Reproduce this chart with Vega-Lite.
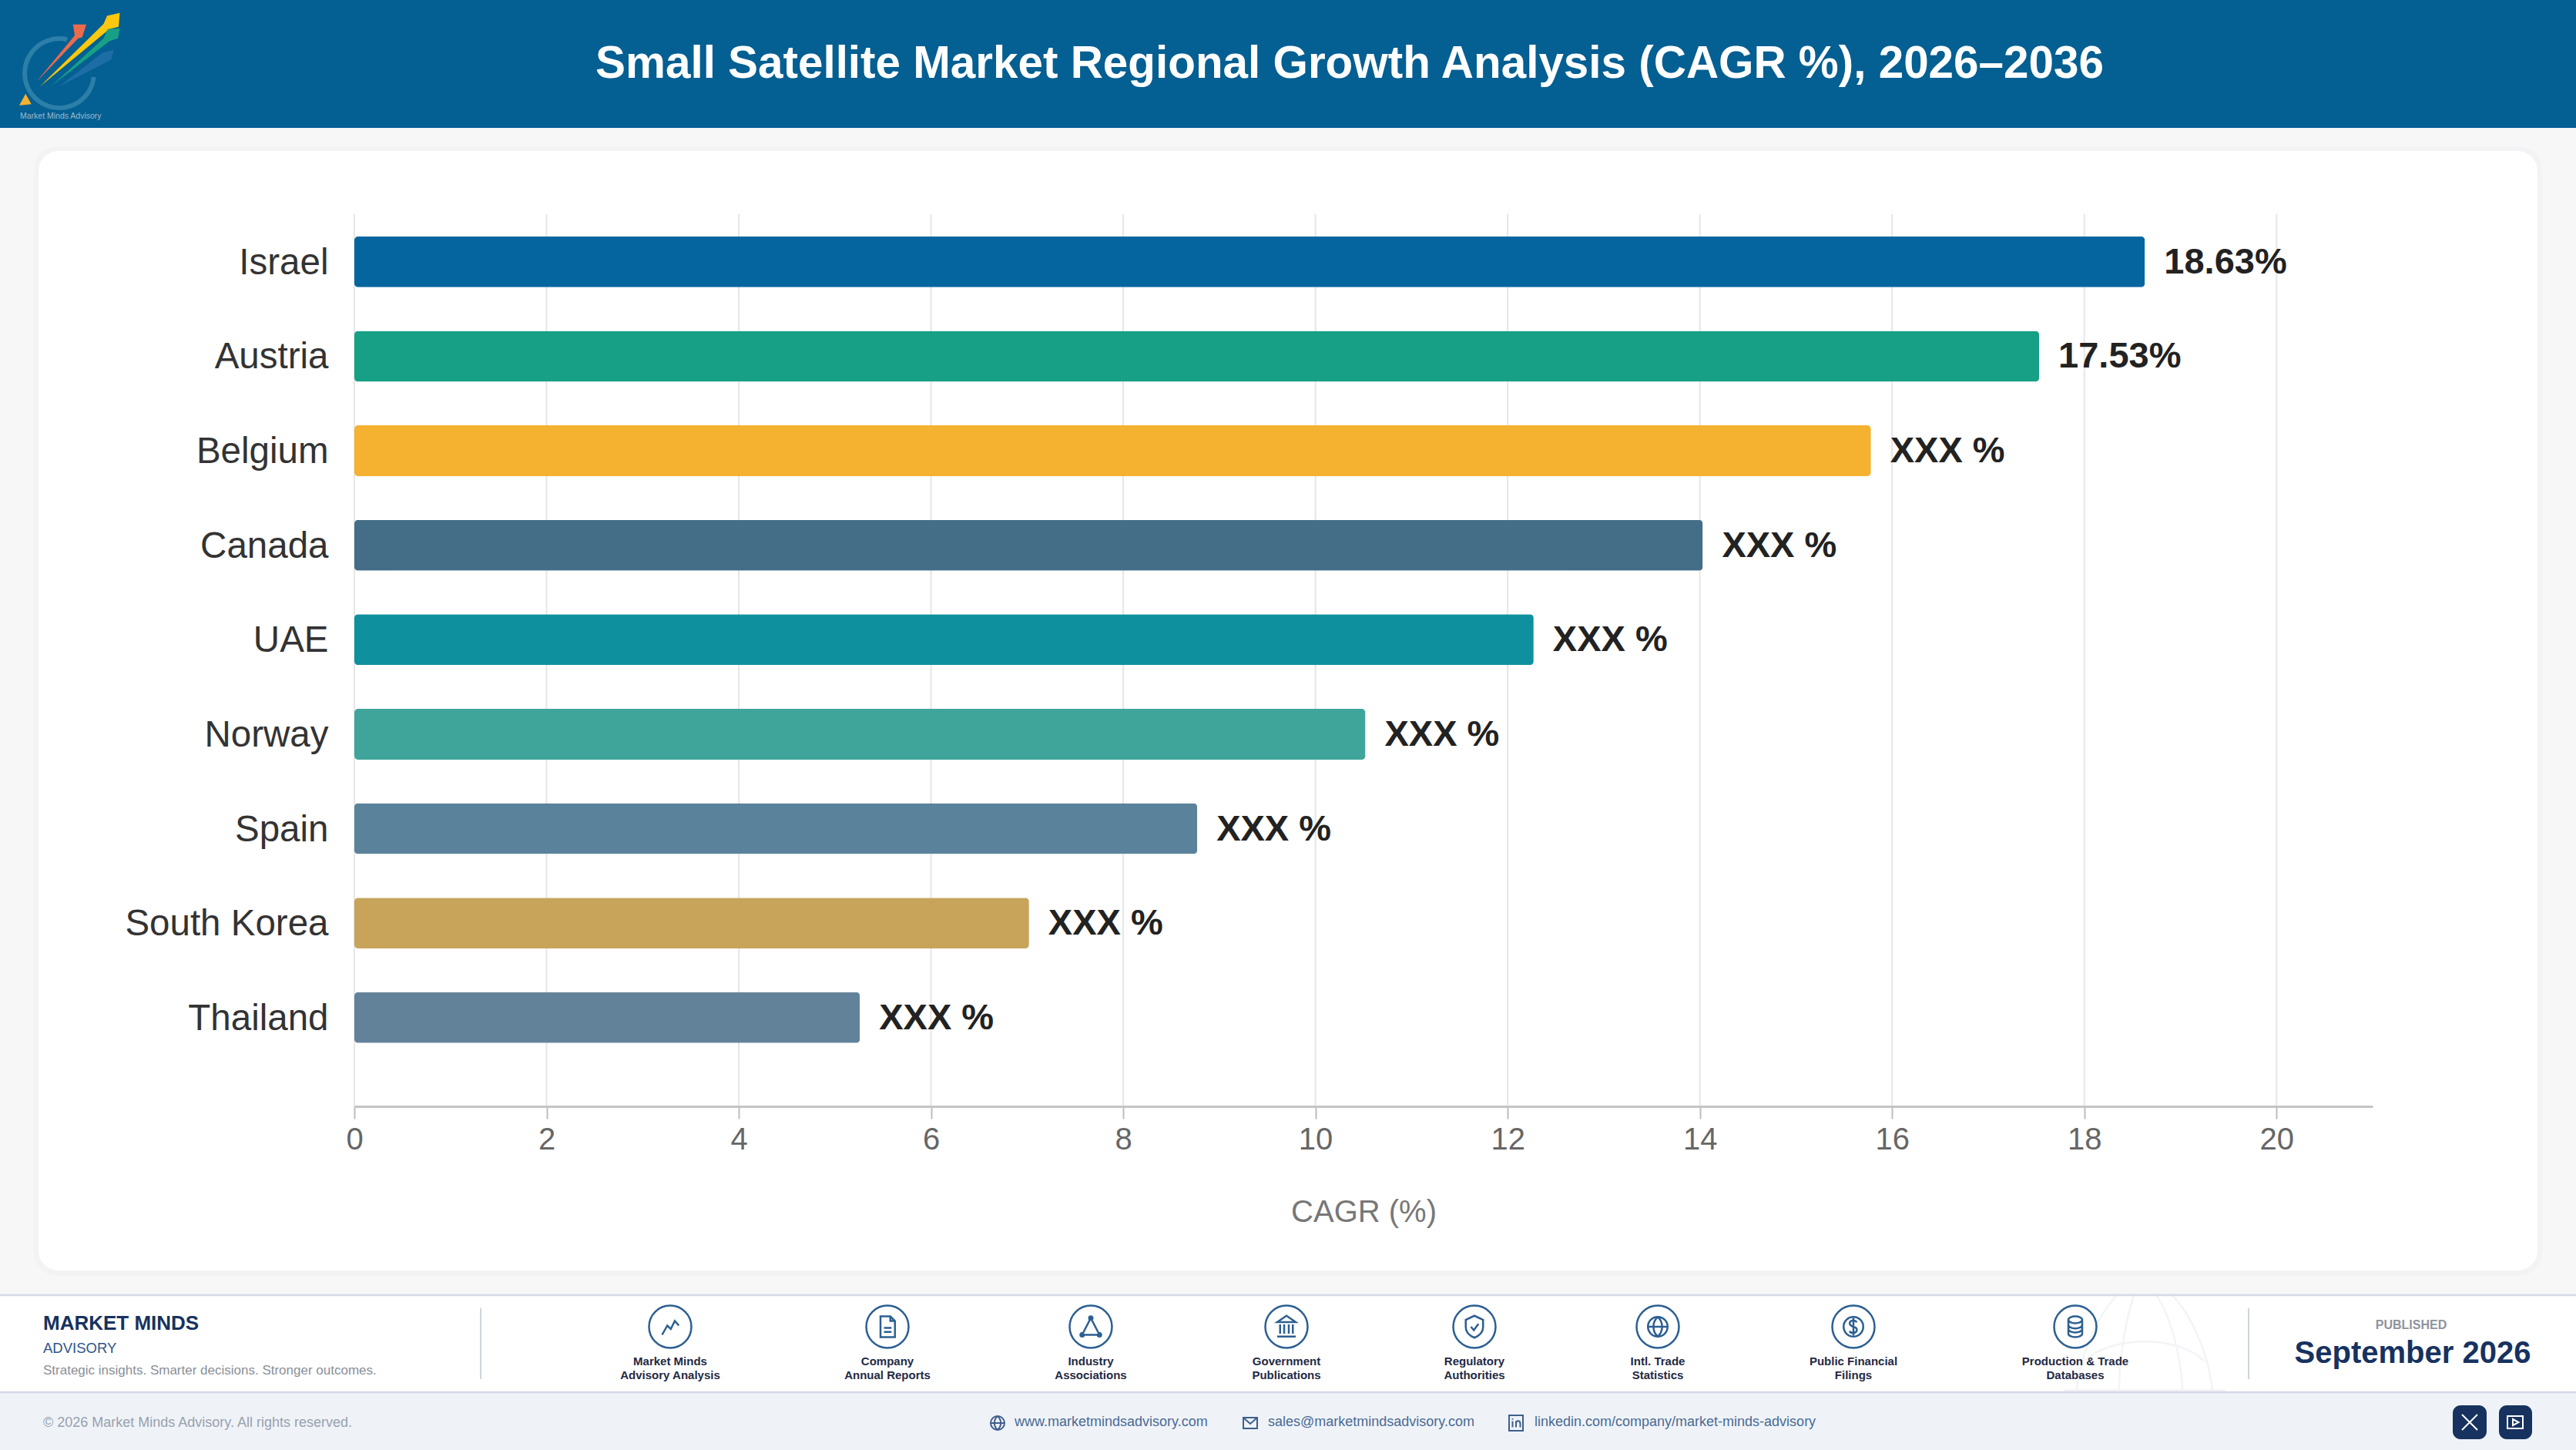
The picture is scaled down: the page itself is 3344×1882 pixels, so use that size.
{
  "$schema": "https://vega.github.io/schema/vega-lite/v6.json",
  "width": 2620,
  "height": 1158,
  "autosize": {"type": "none"},
  "padding": {"left": 460, "top": 278, "right": 264, "bottom": 446},
  "background": "#f7f7f8",
  "title": {
    "text": "Small Satellite Market Regional Growth Analysis (CAGR %), 2026–2036",
    "anchor": "middle", "frame": "group", "offset": -159, "dx": -18, "baseline": "alphabetic",
    "font": "Liberation Sans", "fontSize": 58.4, "fontWeight": "bold", "color": "#ffffff", "zindex": 1
  },
  "data": {"name": "page"},
  "datasets": {
    "page": [{"page": 1}],
    "regions": [
      {"country": "Israel", "cagr": 18.63, "label": "18.63%"},
      {"country": "Austria", "cagr": 17.53, "label": "17.53%"},
      {"country": "Belgium", "cagr": 15.78, "label": "XXX %"},
      {"country": "Canada", "cagr": 14.03, "label": "XXX %"},
      {"country": "UAE", "cagr": 12.27, "label": "XXX %"},
      {"country": "Norway", "cagr": 10.52, "label": "XXX %"},
      {"country": "Spain", "cagr": 8.77, "label": "XXX %"},
      {"country": "South Korea", "cagr": 7.02, "label": "XXX %"},
      {"country": "Thailand", "cagr": 5.26, "label": "XXX %"}
    ],
    "sources": [
      {"slot": 1, "line1": "Market Minds", "line2": "Advisory Analysis", "icon": "chart"},
      {"slot": 2, "line1": "Company", "line2": "Annual Reports", "icon": "doc"},
      {"slot": 3, "line1": "Industry", "line2": "Associations", "icon": "network"},
      {"slot": 4, "line1": "Government", "line2": "Publications", "icon": "bank"},
      {"slot": 5, "line1": "Regulatory", "line2": "Authorities", "icon": "shield"},
      {"slot": 6, "line1": "Intl. Trade", "line2": "Statistics", "icon": "globe"},
      {"slot": 7, "line1": "Public Financial", "line2": "Filings", "icon": "coin"},
      {"slot": 8, "line1": "Production & Trade", "line2": "Databases", "icon": "db"}
    ],
    "contacts": [
      {"slot": 1, "text": "www.marketmindsadvisory.com", "icon": "web"},
      {"slot": 2, "text": "sales@marketmindsadvisory.com", "icon": "mail"},
      {"slot": 3, "text": "linkedin.com/company/market-minds-advisory", "icon": "in"}
    ],
    "logoParts": [
      {"part": "navy"}, {"part": "red"}, {"part": "yellow"}, {"part": "green"}, {"part": "cone"}
    ],
    "gridTicks": [
      {"tick": 0}, {"tick": 2}, {"tick": 4}, {"tick": 6}, {"tick": 8}, {"tick": 10},
      {"tick": 12}, {"tick": 14}, {"tick": 16}, {"tick": 18}, {"tick": 20}
    ]
  },
  "resolve": {"scale": {"x": "independent", "y": "independent", "color": "independent", "shape": "independent"}},
  "layer": [
    {
      "mark": {"type": "rect", "color": "#f3f3f5", "cornerRadius": 30},
      "encoding": {
        "x": {"datum": 44, "scale": {"domain": [0, 3344], "range": [-460, 2884]}, "axis": null},
        "x2": {"datum": 3300},
        "y": {"datum": 190, "scale": {"domain": [0, 1882], "range": [-278, 1604]}, "axis": null},
        "y2": {"datum": 1656}
      }
    },
    {
      "mark": {"type": "rect", "color": "#ffffff", "cornerRadius": 26},
      "encoding": {
        "x": {"datum": 50, "scale": {"domain": [0, 3344], "range": [-460, 2884]}, "axis": null},
        "x2": {"datum": 3294},
        "y": {"datum": 196, "scale": {"domain": [0, 1882], "range": [-278, 1604]}, "axis": null},
        "y2": {"datum": 1649}
      }
    },
    {
      "mark": {"type": "rect", "color": "#045f92"},
      "encoding": {
        "x": {"datum": 0, "scale": {"domain": [0, 3344], "range": [-460, 2884]}, "axis": null},
        "x2": {"datum": 3344},
        "y": {"datum": 0, "scale": {"domain": [0, 1882], "range": [-278, 1604]}, "axis": null},
        "y2": {"datum": 166}
      }
    },
    {
      "mark": {"type": "rect", "color": "#ffffff"},
      "encoding": {
        "x": {"datum": 0, "scale": {"domain": [0, 3344], "range": [-460, 2884]}, "axis": null},
        "x2": {"datum": 3344},
        "y": {"datum": 1680, "scale": {"domain": [0, 1882], "range": [-278, 1604]}, "axis": null},
        "y2": {"datum": 1807}
      }
    },
    {
      "mark": {"type": "point", "filled": false, "opacity": 1, "stroke": "#f3f4f7", "strokeWidth": 2.5, "shape": "M-0.8 0.55C-0.75 0.1 -0.55 -0.35 -0.3 -0.6M0.8 0.55C0.75 0.1 0.55 -0.35 0.3 -0.6M-0.3 0.55C-0.3 0.1 -0.2 -0.35 -0.12 -0.6M0.45 0.55C0.42 0.1 0.3 -0.35 0.12 -0.6M-0.95 0.55H0.95M-0.7 0.2C-0.4 -0.1 0.4 -0.1 0.7 0.2"},
      "encoding": {
        "x": {"datum": 2784, "scale": {"domain": [0, 3344], "range": [-460, 2884]}, "axis": null},
        "y": {"datum": 1744, "scale": {"domain": [0, 1882], "range": [-278, 1604]}, "axis": null},
        "size": {"value": 48400}
      }
    },
    {
      "mark": {"type": "rect", "color": "#eff3f8"},
      "encoding": {
        "x": {"datum": 0, "scale": {"domain": [0, 3344], "range": [-460, 2884]}, "axis": null},
        "x2": {"datum": 3344},
        "y": {"datum": 1807, "scale": {"domain": [0, 1882], "range": [-278, 1604]}, "axis": null},
        "y2": {"datum": 1882}
      }
    },
    {
      "mark": {"type": "rule", "color": "#d5d8e6", "strokeWidth": 2.5},
      "encoding": {
        "x": {"datum": 0, "scale": {"domain": [0, 3344], "range": [-460, 2884]}, "axis": null},
        "x2": {"datum": 3344},
        "y": {"datum": 1681, "scale": {"domain": [0, 1882], "range": [-278, 1604]}, "axis": null}
      }
    },
    {
      "mark": {"type": "rule", "color": "#d5d8e6", "strokeWidth": 2.5},
      "encoding": {
        "x": {"datum": 0, "scale": {"domain": [0, 3344], "range": [-460, 2884]}, "axis": null},
        "x2": {"datum": 3344},
        "y": {"datum": 1807, "scale": {"domain": [0, 1882], "range": [-278, 1604]}, "axis": null}
      }
    },
    {
      "mark": {"type": "rule", "color": "#cdd5df", "strokeWidth": 2},
      "encoding": {
        "x": {"datum": 624, "scale": {"domain": [0, 3344], "range": [-460, 2884]}, "axis": null},
        "y": {"datum": 1698, "scale": {"domain": [0, 1882], "range": [-278, 1604]}, "axis": null},
        "y2": {"datum": 1790}
      }
    },
    {
      "mark": {"type": "rule", "color": "#cdd5df", "strokeWidth": 2},
      "encoding": {
        "x": {"datum": 2919, "scale": {"domain": [0, 3344], "range": [-460, 2884]}, "axis": null},
        "y": {"datum": 1698, "scale": {"domain": [0, 1882], "range": [-278, 1604]}, "axis": null},
        "y2": {"datum": 1790}
      }
    },
    {
      "data": {"name": "gridTicks"},
      "mark": {"type": "rule", "color": "#e6e6e6", "strokeWidth": 2},
      "encoding": {
        "x": {"field": "tick", "type": "quantitative", "scale": {"domain": [0, 21]}, "axis": null}
      }
    },
    {
      "data": {"name": "regions"},
      "mark": {"type": "bar", "cornerRadius": 5},
      "encoding": {
        "x": {
          "field": "cagr", "type": "quantitative",
          "scale": {"domain": [0, 21]},
          "title": "CAGR (%)",
          "axis": {
            "values": [0, 2, 4, 6, 8, 10, 12, 14, 16, 18, 20],
            "grid": false, "zindex": 1, "labelFlush": false,
            "domainColor": "#c4c4c4", "domainWidth": 3,
            "tickColor": "#bdbdbd", "tickWidth": 2, "tickSize": 16,
            "labelFont": "Liberation Sans", "labelFontSize": 40, "labelColor": "#666666", "labelPadding": 7,
            "titleFont": "Liberation Sans", "titleFontSize": 40, "titleFontWeight": "normal", "titleColor": "#777777", "titlePadding": 54
          }
        },
        "y": {
          "field": "country", "type": "nominal", "sort": null,
          "scale": {"type": "band", "paddingInner": 0.462, "paddingOuter": 0.4535, "align": 0.26},
          "title": null,
          "axis": {
            "domain": false, "ticks": false, "grid": false, "zindex": 1, "labelLimit": 0, "labelOffset": 2,
            "labelFont": "Liberation Sans", "labelFontSize": 47.5, "labelColor": "#333333", "labelPadding": 34
          }
        },
        "color": {
          "field": "country", "type": "nominal", "legend": null,
          "scale": {
            "domain": ["Israel", "Austria", "Belgium", "Canada", "UAE", "Norway", "Spain", "South Korea", "Thailand"],
            "range": ["#04659f", "#17a085", "#f5b130", "#446e87", "#0e909e", "#3fa59a", "#5a829b", "#c7a45a", "#628299"]
          }
        }
      }
    },
    {
      "data": {"name": "regions"},
      "mark": {"type": "text", "align": "left", "baseline": "middle", "dx": 25, "dy": 1, "font": "Liberation Sans", "fontSize": 47, "fontWeight": "bold", "color": "#222222"},
      "encoding": {
        "x": {"field": "cagr", "type": "quantitative", "scale": {"domain": [0, 21]}, "axis": null},
        "y": {
          "field": "country", "type": "nominal", "sort": null,
          "scale": {"type": "band", "paddingInner": 0.462, "paddingOuter": 0.4535, "align": 0.26},
          "axis": null
        },
        "text": {"field": "label"}
      }
    },
    {
      "mark": {"type": "point", "filled": false, "opacity": 1, "stroke": "#2b7fa8", "strokeWidth": 6, "shape": "M-0.01 -0.45A0.6 0.6 0 1 0 0.45 0.2"},
      "encoding": {
        "x": {"datum": 88, "scale": {"domain": [0, 3344], "range": [-460, 2884]}, "axis": null},
        "y": {"datum": 85, "scale": {"domain": [0, 1882], "range": [-278, 1604]}, "axis": null},
        "size": {"value": 22500}
      }
    },
    {
      "data": {"name": "logoParts"},
      "mark": {"type": "point", "filled": true, "opacity": 1},
      "encoding": {
        "x": {"datum": 88, "scale": {"domain": [0, 3344], "range": [-460, 2884]}, "axis": null},
        "y": {"datum": 85, "scale": {"domain": [0, 1882], "range": [-278, 1604]}, "axis": null},
        "size": {"value": 22500},
        "color": {
          "field": "part", "type": "nominal", "legend": null,
          "scale": {"domain": ["navy", "red", "yellow", "green", "cone"], "range": ["#1d6da6", "#ee6a4d", "#f9c80e", "#17a085", "#f5b130"]}
        },
        "shape": {
          "field": "part", "type": "nominal", "legend": null,
          "scale": {
            "domain": ["navy", "red", "yellow", "green", "cone"],
            "range": [
              "M-0.16 0.37L0.6 -0.22L0.8 -0.27L0.75 -0.1Z",
              "M-0.55 0.29L0.12 -0.52L0.09 -0.71L0.32 -0.71L0.25 -0.49L0.18 -0.47Z",
              "M-0.49 0.37L0.62 -0.72L0.68 -0.86L0.9 -0.91L0.88 -0.67L0.72 -0.63Z",
              "M-0.29 0.36L0.62 -0.47L0.69 -0.63L0.9 -0.64L0.87 -0.47L0.72 -0.42Z",
              "M-0.73 0.49L-0.84 0.69L-0.63 0.67Z"
            ]
          }
        }
      }
    },
    {
      "mark": {"type": "text", "text": "Market Minds Advisory", "align": "left", "font": "Liberation Sans", "fontSize": 10.5, "color": "#9db9cc"},
      "encoding": {
        "x": {"datum": 26, "scale": {"domain": [0, 3344], "range": [-460, 2884]}, "axis": null},
        "y": {"datum": 151, "scale": {"domain": [0, 1882], "range": [-278, 1604]}, "axis": null}
      }
    },
    {
      "mark": {"type": "text", "text": "MARKET MINDS", "align": "left", "baseline": "alphabetic", "font": "Liberation Sans", "fontSize": 26, "fontWeight": "bold", "color": "#17325f"},
      "encoding": {
        "x": {"datum": 56, "scale": {"domain": [0, 3344], "range": [-460, 2884]}, "axis": null},
        "y": {"datum": 1726, "scale": {"domain": [0, 1882], "range": [-278, 1604]}, "axis": null}
      }
    },
    {
      "mark": {"type": "text", "text": "ADVISORY", "align": "left", "baseline": "alphabetic", "font": "Liberation Sans", "fontSize": 18.5, "color": "#2f5488"},
      "encoding": {
        "x": {"datum": 56, "scale": {"domain": [0, 3344], "range": [-460, 2884]}, "axis": null},
        "y": {"datum": 1756, "scale": {"domain": [0, 1882], "range": [-278, 1604]}, "axis": null}
      }
    },
    {
      "mark": {"type": "text", "text": "Strategic insights. Smarter decisions. Stronger outcomes.", "align": "left", "baseline": "alphabetic", "font": "Liberation Sans", "fontSize": 17, "color": "#8a8f98"},
      "encoding": {
        "x": {"datum": 56, "scale": {"domain": [0, 3344], "range": [-460, 2884]}, "axis": null},
        "y": {"datum": 1784, "scale": {"domain": [0, 1882], "range": [-278, 1604]}, "axis": null}
      }
    },
    {
      "mark": {"type": "text", "text": "© 2026 Market Minds Advisory. All rights reserved.", "align": "left", "baseline": "alphabetic", "font": "Liberation Sans", "fontSize": 18, "color": "#98a1ae"},
      "encoding": {
        "x": {"datum": 56, "scale": {"domain": [0, 3344], "range": [-460, 2884]}, "axis": null},
        "y": {"datum": 1852, "scale": {"domain": [0, 1882], "range": [-278, 1604]}, "axis": null}
      }
    },
    {
      "data": {"name": "sources"},
      "mark": {"type": "point", "shape": "circle", "filled": false, "opacity": 1, "stroke": "#2c5f92", "strokeWidth": 2.5},
      "encoding": {
        "x": {"field": "slot", "type": "quantitative", "scale": {"domain": [1, 2, 3, 4, 5, 6, 7, 8], "range": [410, 692, 956, 1210, 1454, 1692, 1946, 2234]}, "axis": null},
        "y": {"datum": 1722, "scale": {"domain": [0, 1882], "range": [-278, 1604]}, "axis": null},
        "size": {"value": 3025}
      }
    },
    {
      "data": {"name": "sources"},
      "mark": {"type": "point", "filled": false, "opacity": 1, "stroke": "#2c5f92", "strokeWidth": 2.5},
      "encoding": {
        "x": {"field": "slot", "type": "quantitative", "scale": {"domain": [1, 2, 3, 4, 5, 6, 7, 8], "range": [410, 692, 956, 1210, 1454, 1692, 1946, 2234]}, "axis": null},
        "y": {"datum": 1722, "scale": {"domain": [0, 1882], "range": [-278, 1604]}, "axis": null},
        "size": {"value": 900},
        "shape": {
          "field": "icon", "type": "nominal", "legend": null,
          "scale": {
            "domain": ["chart", "doc", "network", "bank", "shield", "globe", "coin", "db"],
            "range": [
              "M-0.7 0.7L-0.25 -0.1L0.05 0.2L0.4 -0.5L0.75 -0.1",
              "M-0.6 -0.9H0.25L0.65 -0.5V0.9H-0.6ZM0.25 -0.9V-0.5H0.65M-0.3 0.1H0.35M-0.3 0.45H0.35",
              "M0 -0.75L-0.75 0.7H0.75ZM0.15 -0.75A0.15 0.15 0 1 1 -0.15 -0.75A0.15 0.15 0 1 1 0.15 -0.75ZM-0.6 0.7A0.15 0.15 0 1 1 -0.9 0.7A0.15 0.15 0 1 1 -0.6 0.7ZM0.9 0.7A0.15 0.15 0 1 1 0.6 0.7A0.15 0.15 0 1 1 0.9 0.7Z",
              "M-0.8 -0.4L0 -0.95L0.8 -0.4ZM-0.55 -0.2V0.6M-0.2 -0.2V0.6M0.2 -0.2V0.6M0.55 -0.2V0.6M-0.8 0.85H0.8",
              "M0 -0.95L0.75 -0.6V0.05C0.75 0.5 0.35 0.8 0 0.95C-0.35 0.8 -0.75 0.5 -0.75 0.05V-0.6ZM-0.3 0L-0.05 0.3L0.35 -0.25",
              "M-0.85 0A0.85 0.85 0 1 1 0.85 0A0.85 0.85 0 1 1 -0.85 0ZM-0.85 0H0.85M0 -0.85C-0.5 -0.4 -0.5 0.4 0 0.85C0.5 0.4 0.5 -0.4 0 -0.85",
              "M-0.85 0A0.85 0.85 0 1 1 0.85 0A0.85 0.85 0 1 1 -0.85 0ZM0.3 -0.4C0 -0.7 -0.4 -0.5 -0.3 -0.2C-0.2 0.05 0.3 -0.05 0.3 0.25C0.3 0.55 -0.1 0.65 -0.35 0.4M0 -0.75V0.75",
              "M-0.6 -0.6A0.6 0.3 0 1 1 0.6 -0.6A0.6 0.3 0 1 1 -0.6 -0.6ZM-0.6 -0.6V0.6A0.6 0.3 0 0 0 0.6 0.6V-0.6M-0.6 -0.15A0.6 0.3 0 0 0 0.6 -0.15M-0.6 0.2A0.6 0.3 0 0 0 0.6 0.2"
            ]
          }
        }
      }
    },
    {
      "data": {"name": "sources"},
      "mark": {"type": "text", "font": "Liberation Sans", "fontSize": 15, "fontWeight": "bold", "color": "#1f2a44"},
      "encoding": {
        "x": {"field": "slot", "type": "quantitative", "scale": {"domain": [1, 2, 3, 4, 5, 6, 7, 8], "range": [410, 692, 956, 1210, 1454, 1692, 1946, 2234]}, "axis": null},
        "y": {"datum": 1767, "scale": {"domain": [0, 1882], "range": [-278, 1604]}, "axis": null},
        "text": {"field": "line1"}
      }
    },
    {
      "data": {"name": "sources"},
      "mark": {"type": "text", "font": "Liberation Sans", "fontSize": 15, "fontWeight": "bold", "color": "#1f2a44"},
      "encoding": {
        "x": {"field": "slot", "type": "quantitative", "scale": {"domain": [1, 2, 3, 4, 5, 6, 7, 8], "range": [410, 692, 956, 1210, 1454, 1692, 1946, 2234]}, "axis": null},
        "y": {"datum": 1785, "scale": {"domain": [0, 1882], "range": [-278, 1604]}, "axis": null},
        "text": {"field": "line2"}
      }
    },
    {
      "data": {"name": "contacts"},
      "mark": {"type": "text", "align": "left", "font": "Liberation Sans", "fontSize": 18, "color": "#4a6a94"},
      "encoding": {
        "x": {"field": "slot", "type": "quantitative", "scale": {"domain": [1, 2, 3], "range": [857, 1186, 1532]}, "axis": null},
        "y": {"datum": 1846, "scale": {"domain": [0, 1882], "range": [-278, 1604]}, "axis": null},
        "text": {"field": "text"}
      }
    },
    {
      "data": {"name": "contacts"},
      "mark": {"type": "point", "filled": false, "opacity": 1, "stroke": "#3e5f8c", "strokeWidth": 2},
      "encoding": {
        "x": {"field": "slot", "type": "quantitative", "scale": {"domain": [1, 2, 3], "range": [835, 1163, 1508]}, "axis": null},
        "y": {"datum": 1847, "scale": {"domain": [0, 1882], "range": [-278, 1604]}, "axis": null},
        "size": {"value": 400},
        "shape": {
          "field": "icon", "type": "nominal", "legend": null,
          "scale": {
            "domain": ["web", "mail", "in"],
            "range": [
              "M-0.9 0A0.9 0.9 0 1 1 0.9 0A0.9 0.9 0 1 1 -0.9 0ZM-0.9 0H0.9M0 -0.9C-0.55 -0.4 -0.55 0.4 0 0.9C0.55 0.4 0.55 -0.4 0 -0.9",
              "M-0.9 -0.7H0.9V0.7H-0.9ZM-0.9 -0.7L0 0.1L0.9 -0.7",
              "M-0.9 -1H0.9V1H-0.9ZM-0.45 -0.25V0.55M-0.45 -0.6V-0.45M0 0.55V-0.25M0 0C0.1 -0.4 0.55 -0.35 0.55 0.1V0.55"
            ]
          }
        }
      }
    },
    {
      "mark": {"type": "text", "text": "PUBLISHED", "font": "Liberation Sans", "fontSize": 16, "fontWeight": "bold", "color": "#8e939e"},
      "encoding": {
        "x": {"datum": 3130, "scale": {"domain": [0, 3344], "range": [-460, 2884]}, "axis": null},
        "y": {"datum": 1720, "scale": {"domain": [0, 1882], "range": [-278, 1604]}, "axis": null}
      }
    },
    {
      "mark": {"type": "text", "text": "September 2026", "font": "Liberation Sans", "fontSize": 40, "fontWeight": "bold", "color": "#17325f"},
      "encoding": {
        "x": {"datum": 3132, "scale": {"domain": [0, 3344], "range": [-460, 2884]}, "axis": null},
        "y": {"datum": 1757, "scale": {"domain": [0, 1882], "range": [-278, 1604]}, "axis": null}
      }
    },
    {
      "mark": {"type": "rect", "color": "#17325f", "cornerRadius": 10},
      "encoding": {
        "x": {"datum": 3184, "scale": {"domain": [0, 3344], "range": [-460, 2884]}, "axis": null},
        "x2": {"datum": 3228},
        "y": {"datum": 1824, "scale": {"domain": [0, 1882], "range": [-278, 1604]}, "axis": null},
        "y2": {"datum": 1868}
      }
    },
    {
      "mark": {"type": "rect", "color": "#17325f", "cornerRadius": 10},
      "encoding": {
        "x": {"datum": 3244, "scale": {"domain": [0, 3344], "range": [-460, 2884]}, "axis": null},
        "x2": {"datum": 3287},
        "y": {"datum": 1824, "scale": {"domain": [0, 1882], "range": [-278, 1604]}, "axis": null},
        "y2": {"datum": 1868}
      }
    },
    {
      "mark": {"type": "point", "filled": false, "opacity": 1, "stroke": "#ffffff", "strokeWidth": 2, "shape": "M-1 -1L1 1M1 -1L-1 1"},
      "encoding": {
        "x": {"datum": 3206, "scale": {"domain": [0, 3344], "range": [-460, 2884]}, "axis": null},
        "y": {"datum": 1846, "scale": {"domain": [0, 1882], "range": [-278, 1604]}, "axis": null},
        "size": {"value": 400}
      }
    },
    {
      "mark": {"type": "point", "filled": false, "opacity": 1, "stroke": "#ffffff", "strokeWidth": 2, "shape": "M-1 -0.8H1V0.8H-1ZM-0.3 -0.4L0.45 0L-0.3 0.4Z"},
      "encoding": {
        "x": {"datum": 3265, "scale": {"domain": [0, 3344], "range": [-460, 2884]}, "axis": null},
        "y": {"datum": 1846, "scale": {"domain": [0, 1882], "range": [-278, 1604]}, "axis": null},
        "size": {"value": 400}
      }
    }
  ],
  "config": {
    "view": {"stroke": null}
  }
}
